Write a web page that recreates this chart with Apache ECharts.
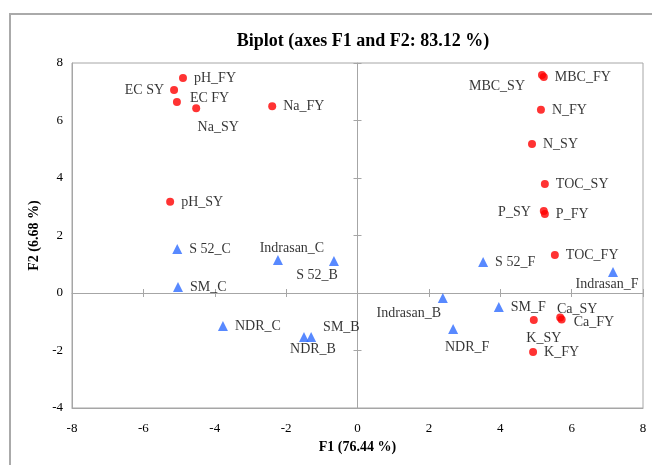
<!DOCTYPE html>
<html>
<head>
<meta charset="utf-8">
<script src="https://cdn.jsdelivr.net/npm/echarts@6/dist/echarts.min.js"></script>
<style>html,body{margin:0;padding:0;background:#fff}#c{width:652px;height:465px}</style>
</head>
<body>
<div id="c"></div>
<script>
// ---- data ----
const varNames = ['pH_FY','EC SY','EC FY','Na_SY','Na_FY','pH_SY','MBC_SY','MBC_FY','N_FY','N_SY','TOC_SY','P_SY','P_FY','TOC_FY','Ca_SY','Ca_FY','K_SY','K_FY'];
const varF1 = [-4.89,-5.14,-5.06,-4.52,-2.39,-5.25,5.17,5.22,5.14,4.89,5.25,5.22,5.25,5.53,5.68,5.72,4.94,4.92];
const varF2 = [7.48,7.06,6.64,6.43,6.50,3.17,7.58,7.51,6.37,5.18,3.79,2.85,2.75,1.32,-0.85,-0.92,-0.94,-2.05];

const obsNames = ['S 52_C','SM_C','Indrasan_C','S 52_B','NDR_C','NDR_B','SM_B','Indrasan_B','S 52_F','SM_F','NDR_F','Indrasan_F'];
const obsF1 = [-5.05,-5.03,-2.23,-0.66,-3.77,-1.50,-1.30,2.39,3.52,3.96,2.68,7.16];
const obsF2 = [1.53,0.21,1.15,1.11,-1.15,-1.53,-1.53,-0.17,1.08,-0.49,-1.25,0.73];

const axisMin = -8, axisMax = 8, axisStep = 2;
const yMin = -4, yMax = 8, yStep = 2;

// ---- label placement (style only) ----
const labelPlace = {
  'EC SY': {position:'left', distance:6},
  'EC FY': {position:'right', offset:[2,-4]},
  'Na_SY': {position:'bottom', offset:[22,1]},
  'MBC_SY': {position:'left', offset:[-6,11]},
  'P_SY': {position:'left', offset:[-2,1]},
  'Ca_SY': {position:'top', offset:[17,10]},
  'Ca_FY': {position:'right', offset:[1,3]},
  'K_SY': {position:'bottom', offset:[10,0]},
  'Indrasan_C': {position:'top', offset:[14,7]},
  'S 52_B': {position:'bottom', offset:[-17,-5]},
  'SM_B': {position:'right', offset:[0,-10]},
  'NDR_B': {position:'bottom', offset:[9,-7]},
  'Indrasan_B': {position:'bottom', offset:[-34,-4]},
  'NDR_F': {position:'bottom', offset:[14,-1]},
  'Indrasan_F': {position:'bottom', offset:[-6,-7]}
};

const FONT = '"Liberation Serif", "Times New Roman", serif';
const labelBase = {show:true, position:'right', distance:7, color:'#000', fontFamily:FONT, fontSize:14};

function build(names, xs, ys) {
  return names.map((n, i) => {
    const p = labelPlace[n] || {};
    return {name:n, value:[xs[i], ys[i]], label:Object.assign({}, labelBase, p, {formatter:n})};
  });
}

const gray = '#a6a6a6';
const baseX = {type:'value', min:axisMin, max:axisMax, interval:axisStep, splitLine:{show:false}};
const baseY = {type:'value', min:yMin, max:yMax, interval:yStep, splitLine:{show:false}};

const chart = echarts.init(document.getElementById('c'), null, {renderer:'canvas'});
chart.setOption({
  animation:false,
  backgroundColor:'#fff',
  title:{text:'Biplot (axes F1 and F2: 83.12 %)', left:358, top:27, textAlign:'center',
    textStyle:{fontFamily:FONT, fontWeight:'bold', fontSize:18, color:'#000'}},
  graphic:[{type:'rect', shape:{x:10, y:14, width:800, height:600}, style:{fill:'none', stroke:'#aaaaaa', lineWidth:2}, silent:true}],
  grid:{left:72, right:9, top:63, bottom:57, show:true, borderColor:gray, borderWidth:1, backgroundColor:'transparent'},
  xAxis:[
    Object.assign({}, baseX, {position:'bottom', axisLine:{show:true, onZero:false, lineStyle:{color:gray}}, axisTick:{show:false},
      axisLabel:{color:'#000', fontFamily:FONT, fontSize:13, margin:14},
      name:'F1 (76.44 %)', nameLocation:'middle', nameGap:28, nameTextStyle:{fontFamily:FONT, fontWeight:'bold', fontSize:14, color:'#000'}}),
    Object.assign({}, baseX, {position:'bottom', axisLine:{show:true, onZero:true, onZeroAxisIndex:0, lineStyle:{color:gray}}, axisTick:{show:true, length:4, inside:false, lineStyle:{color:gray}}, axisLabel:{show:false}}),
    Object.assign({}, baseX, {position:'bottom', axisLine:{show:false, onZero:true, onZeroAxisIndex:0}, axisTick:{show:true, length:4, inside:true, lineStyle:{color:gray}}, axisLabel:{show:false}})
  ],
  yAxis:[
    Object.assign({}, baseY, {position:'left', axisLine:{show:true, onZero:false, lineStyle:{color:gray}}, axisTick:{show:false},
      axisLabel:{color:'#000', fontFamily:FONT, fontSize:13, margin:9},
      name:'F2 (6.68 %)', nameLocation:'middle', nameGap:25, nameTextStyle:{fontFamily:FONT, fontWeight:'bold', fontSize:14, color:'#000'}}),
    Object.assign({}, baseY, {position:'left', axisLine:{show:true, onZero:true, onZeroAxisIndex:0, lineStyle:{color:gray}}, axisTick:{show:true, length:4, inside:false, lineStyle:{color:gray}}, axisLabel:{show:false}}),
    Object.assign({}, baseY, {position:'left', axisLine:{show:false, onZero:true, onZeroAxisIndex:0}, axisTick:{show:true, length:4, inside:true, lineStyle:{color:gray}}, axisLabel:{show:false}})
  ],
  series:[
    {type:'scatter', name:'Variables', xAxisIndex:0, yAxisIndex:0, symbol:'circle', symbolSize:8,
      itemStyle:{color:'#ff0000'}, data:build(varNames, varF1, varF2), z:3},
    {type:'scatter', name:'Observations', xAxisIndex:0, yAxisIndex:0, symbol:'triangle', symbolSize:10,
      itemStyle:{color:'#2e6bff'}, data:build(obsNames, obsF1, obsF2), z:3}
  ]
});
</script>
</body>
</html>
